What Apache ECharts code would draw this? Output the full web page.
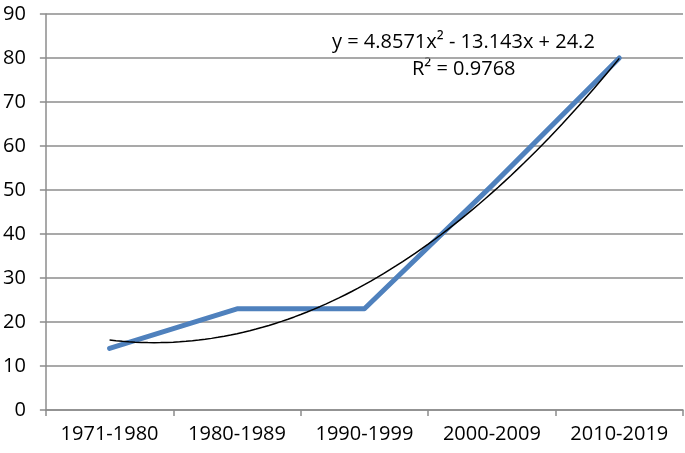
<!DOCTYPE html>
<html>
<head>
<meta charset="utf-8">
<script src="https://cdn.jsdelivr.net/npm/echarts@6/dist/echarts.min.js"></script>
<style>html,body{margin:0;padding:0;background:#fff}#c{width:685px;height:453px}</style>
</head>
<body>
<div id="c"></div>
<script>
var categories = ['1971-1980', '1980-1989', '1990-1999', '2000-2009', '2010-2019'];
var values = [14, 23, 23, 51, 80];
var yTicks = [0, 10, 20, 30, 40, 50, 60, 70, 80, 90];
// trendline coefficients as printed on the chart
var trendA = 4.8571, trendB = -13.143, trendC = 24.2;
var equationText = 'y = 4.8571x² - 13.143x + 24.2';
var r2Text = 'R² = 0.9768';

var trend = [];
for (var i = 0; i <= 80; i++) {
  var x = 1 + i * 4 / 80;
  trend.push([x, trendA * x * x + trendB * x + trendC]);
}

var chart = echarts.init(document.getElementById('c'), null, {renderer: 'canvas'});
var FONT = '"Open Sans", sans-serif';
chart.setOption({
  animation: false,
  grid: {left: 43, right: 2, top: 14, bottom: 43, containLabel: false},
  xAxis: [{
    type: 'category',
    data: categories,
    boundaryGap: true,
    axisLine: {lineStyle: {color: '#8c8c8c', width: 1.5}},
    axisTick: {show: true, length: 6, inside: false, lineStyle: {color: '#8c8c8c', width: 1.5}},
    axisLabel: {color: '#000', fontFamily: FONT, fontSize: 20, margin: 14},
    splitLine: {show: false}
  }, {
    type: 'value',
    min: 0.5, max: 5.5,
    show: false
  }],
  yAxis: {
    type: 'value',
    min: 0, max: 90, interval: 10,
    axisLine: {show: true, lineStyle: {color: '#8c8c8c', width: 1.5}},
    axisTick: {show: true, length: 6, lineStyle: {color: '#8c8c8c', width: 1.5}},
    axisLabel: {color: '#000', fontFamily: FONT, fontSize: 20, margin: 20,
      formatter: function (v) { return yTicks.indexOf(v) >= 0 ? String(v) : ''; }},
    splitLine: {show: true, lineStyle: {color: '#8c8c8c', width: 1.5}}
  },
  series: [{
    type: 'line',
    data: values,
    xAxisIndex: 0,
    symbol: 'none',
    lineStyle: {color: '#4f81bd', width: 5, cap: 'round', join: 'round'},
    z: 2
  }, {
    type: 'line',
    data: trend,
    xAxisIndex: 1,
    symbol: 'none',
    smooth: false,
    lineStyle: {color: '#000', width: 1.5},
    z: 3
  }],
  graphic: [{
    type: 'text', left: 332, top: 32,
    style: {text: equationText, font: '20px ' + FONT, fill: '#000'}
  }, {
    type: 'text', left: 412, top: 59,
    style: {text: r2Text, font: '20px ' + FONT, fill: '#000'}
  }]
});
</script>
</body>
</html>
